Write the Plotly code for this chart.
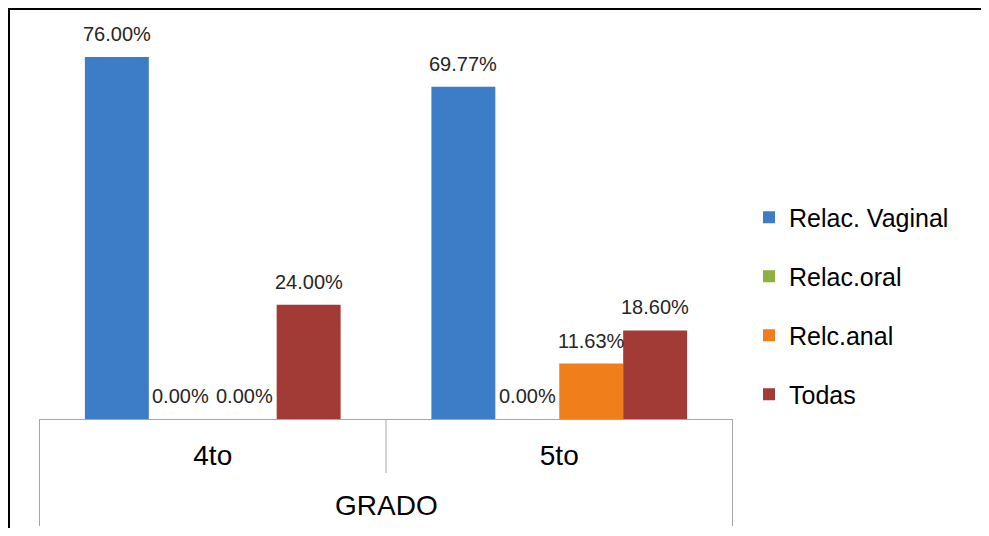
import plotly.graph_objects as go

categories = ["4to", "5to"]
series_names = ["Relac. Vaginal", "Relac.oral", "Relc.anal", "Todas"]
vaginal = [76.00, 69.77]
oral = [0.00, 0.00]
anal = [0.00, 11.63]
todas = [24.00, 18.60]
axis_title = "GRADO"

series_values = [vaginal, oral, anal, todas]
colors = ["#3D7CC6", "#8CB13F", "#F07E1A", "#A23A36"]

FONT = "Liberation Sans, Arial, sans-serif"
BARGAP = 0.262
n = len(series_names)

fig = go.Figure()
annotations = []
for i, (name, vals) in enumerate(zip(series_names, series_values)):
    fig.add_trace(go.Bar(
        x=categories, y=vals, name=name,
        marker=dict(color=colors[i], line=dict(width=0)),
        legendgroup=name, cliponaxis=False,
    ))
    # value labels placed over each bar through the category axis
    w = (1 - BARGAP) / n
    off = -0.5 + BARGAP / 2 + (i + 0.5) * w
    for j, v in enumerate(vals):
        annotations.append(dict(
            x=j + off, y=v, xref="x", yref="y", text=f"{v:.2f}%",
            showarrow=False, xanchor="center", yanchor="middle", yshift=23,
            font=dict(family=FONT, size=20, color="#262626"),
        ))

# page body has an 8px margin; figure sized to fit the rest of the window
W, H = 973, 520
L, R, T, B = 31, 725, 30, 411
pw, ph = R - L, B - T

def py(p):
    return (B - p) / ph

def px(p):
    return (p - L) / pw

shapes = [
    # outer chart border: only the top and left edges are visible in the reference
    dict(type="line", xref="paper", yref="paper",
         x0=px(0), x1=px(W), y0=py(1), y1=py(1),
         line=dict(color="#000000", width=2)),
    dict(type="line", xref="paper", yref="paper",
         x0=px(1), x1=px(1), y0=py(0), y1=py(H),
         line=dict(color="#000000", width=2)),
    dict(type="line", xref="x", yref="paper", x0=-0.5, x1=-0.5, y0=0, y1=py(518),
         line=dict(color="#A6A6A6", width=1)),
    dict(type="line", xref="x", yref="paper", x0=1.5, x1=1.5, y0=0, y1=py(518),
         line=dict(color="#A6A6A6", width=1)),
    dict(type="line", xref="x", yref="paper", x0=0.5, x1=0.5, y0=0, y1=py(465),
         line=dict(color="#A6A6A6", width=1)),
]

annotations.append(dict(text=axis_title, xref="paper", yref="paper", x=0.5, y=py(497),
                        xanchor="center", yanchor="middle", showarrow=False,
                        font=dict(family=FONT, size=28, color="#000000")))

fig.update_layout(
    width=W, height=H,
    margin=dict(l=L, r=W - R, t=T, b=H - B, pad=0),
    paper_bgcolor="white", plot_bgcolor="white",
    barmode="group", bargap=BARGAP, bargroupgap=0,
    font=dict(family=FONT, color="#000000"),
    xaxis=dict(showline=True, linecolor="#A6A6A6", linewidth=1,
               showgrid=False, ticks="", tickfont=dict(size=28, color="#000000"),
               ticklabelstandoff=11, fixedrange=True),
    yaxis=dict(range=[0, 80], visible=False, showgrid=False, fixedrange=True),
    legend=dict(x=(741 - L) / pw, xanchor="left", y=py(298), yanchor="middle",
                font=dict(size=25, color="#000000"), tracegroupgap=23.5,
                traceorder="grouped", bgcolor="rgba(0,0,0,0)"),
    shapes=shapes,
    annotations=annotations,
)

fig.write_html("out.html")
